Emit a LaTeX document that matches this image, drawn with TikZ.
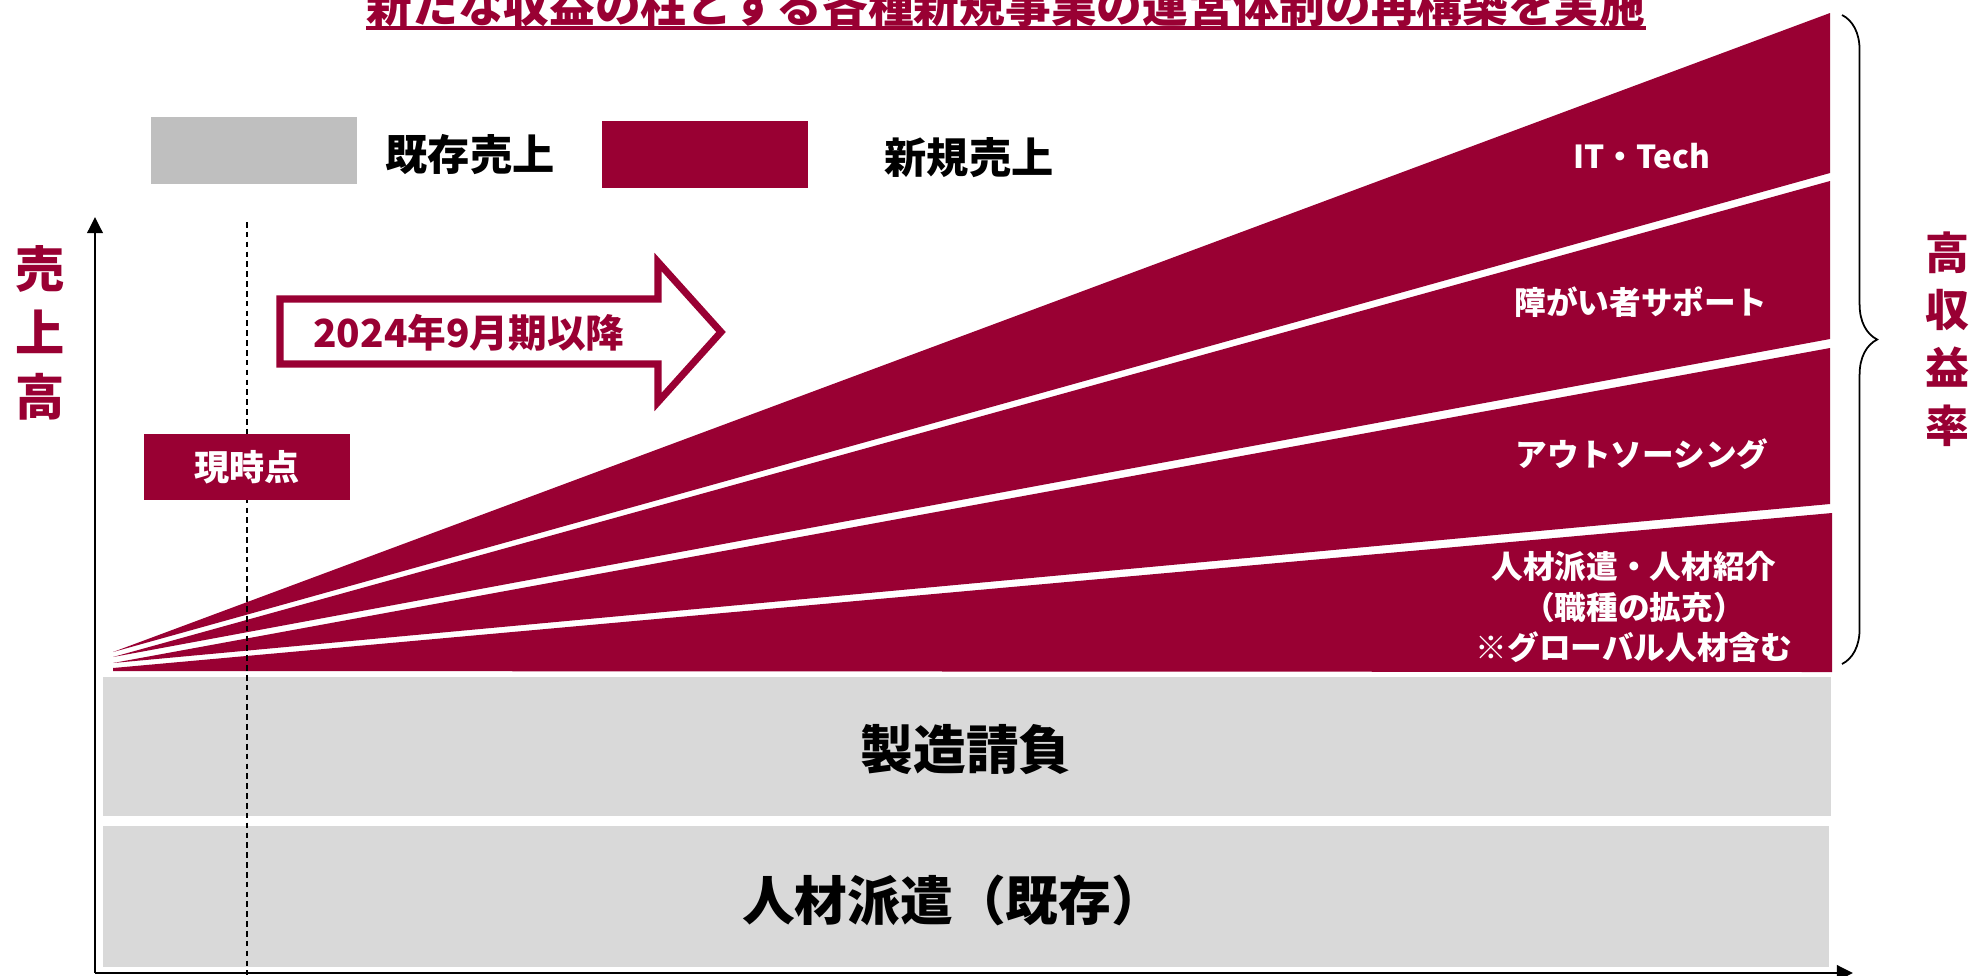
\documentclass[tikz,border=0pt]{standalone}
\usepackage{fontspec}
\setmainfont{Noto Sans CJK JP}
\usepackage{xcolor}
\usepackage{tikz}
\usetikzlibrary{arrows.meta,decorations.pathreplacing}
\definecolor{wine}{HTML}{990033}
\definecolor{oldgray}{HTML}{D9D9D9}
\definecolor{keygray}{HTML}{BFBFBF}

\begin{document}
\begin{tikzpicture}[x=0.01cm, y=-0.01cm,
    axis/.style={line width=0.75pt, -{Triangle[length=4.6pt,width=4.4pt]}},
    seglabel/.style={text=white, font=\bfseries\fontsize{9}{11.4}\selectfont, align=center},
    boxtext/.style={font=\bfseries\fontsize{15}{15}\selectfont},
    keytext/.style={font=\bfseries\fontsize{12}{12}\selectfont}]
    \path[use as bounding box, clip] (0,0) rectangle (1976,975);

    % title (cut at the top edge)
    \node[anchor=base, inner sep=0, text=wine, font=\bfseries\fontsize{13}{13}\selectfont] (title) at (1006,22) {新たな収益の柱とする各種新規事業の運営体制の再構築を実施};
    \coordinate (ul) at (0,28);
    \draw[wine, line width=0.9pt] (title.west |- ul) -- (title.east |- ul);

    % legend
    \fill[keygray] (151,117) rectangle (357,184);
    \node[keytext] (oldkey) at (470,155) {既存売上};
    \fill[wine] (602,121) rectangle (808,188);
    \node[keytext] (newkey) at (969,158) {新規売上};

    % new business wedges
    \fill[wine] (113,652) -- (1830,13) -- (1830,173) -- cycle; % IT
    \fill[wine] (113,657) -- (1830,181) -- (1830,339) -- cycle; % support
    \fill[wine] (113,663) -- (1830,348) -- (1830,504) -- cycle; % outsourcing
    \fill[wine] (113,668) -- (1832,513) -- (1832,672) -- (113,671) -- cycle; % staffing
    \node[seglabel] (it) at (1642,156) {IT・Tech};
    \node[seglabel] (support) at (1641,302) {障がい者サポート};
    \node[seglabel] (outsrc) at (1642,454) {アウトソーシング};
    \node[seglabel] (staff) at (1634,607) {人材派遣・人材紹介\\（職種の拡充）\\※グローバル人材含む};

    % existing sales
    \fill[oldgray] (103,677) rectangle (1831,816);
    \node[boxtext] (mfg) at (966,750) {製造請負};
    \fill[oldgray] (103,826) rectangle (1829,967);
    \node[boxtext] (dispatch) at (953,900) {人材派遣（既存）};

    % axes
    \coordinate (o) at (95,973);
    \coordinate (ytop) at (95,217);
    \coordinate (xend) at (1853,973);
    \draw[axis] (o) -- (ytop);
    \draw[axis] (o) -- (xend);
    \node[text=wine, font=\bfseries\fontsize{14}{18.2}\selectfont, align=center] (sales) at (40,333) {売\\上\\高};

    % now line
    \coordinate (nowtop) at (247,222);
    \coordinate (nowbot) at (247,975);
    \draw[line width=0.4pt, dash pattern=on 1.6pt off 1.2pt] (nowtop) -- (nowbot);
    \node[fill=wine, text=white, minimum width=2.05cm, minimum height=0.66cm, font=\bfseries\fontsize{10}{10}\selectfont] (now) at (247,467) {現時点};

    % period arrow
    \draw[wine, line width=2pt, fill=white] (280,299) -- (658,299) -- (658,262) -- (721,332) -- (658,402) -- (658,364) -- (280,364) -- cycle;
    \node[text=wine, font=\bfseries\fontsize{11}{11}\selectfont] (since) at (469,333) {2024年9月期以降};

    % brace
    \coordinate (bt) at (1842,15);
    \coordinate (bb) at (1842,664);
    \draw[line width=0.5pt, decorate, decoration={brace, amplitude=10pt}] (bt) -- (bb);
    \node[text=wine, font=\bfseries\fontsize{12.5}{16.4}\selectfont, align=center] (margin) at (1947,339) {高\\収\\益\\率};
\end{tikzpicture}
\end{document}
